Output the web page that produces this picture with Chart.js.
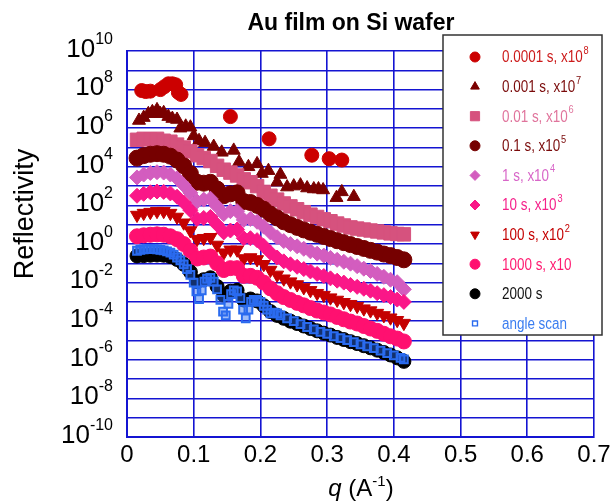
<!DOCTYPE html>
<html>
<head>
<meta charset="utf-8">
<script src="https://cdn.jsdelivr.net/npm/chart.js@4.4.1/dist/chart.umd.min.js"></script>
<style>
  html, body { margin: 0; padding: 0; background: #fff; }
  #wrap { width: 613px; height: 504px; position: relative; }
</style>
</head>
<body>
<div id="wrap"><canvas id="c"></canvas></div>
<script>
// q values (1/A) shared by the dense series
const Q = [0.015,0.025,0.035,0.045,0.055,0.065,0.075,0.085,0.095,0.105,0.115,0.125,0.135,0.145,0.155,0.165,0.175,0.185,0.195,0.205,0.215,0.225,0.235,0.245,0.255,0.265,0.275,0.285,0.295,0.305,0.315,0.325,0.335,0.345,0.355,0.365,0.375,0.385,0.395,0.405,0.415];

// reflectivity values, read as log10 off the axis
const qDot   = [0.022,0.028,0.035,0.05,0.056,0.062,0.068,0.073,0.077,0.081,0.155,0.213,0.277,0.303,0.322];
const logDot = [7.95,7.9,7.92,8.0,8.15,8.3,8.3,8.25,7.85,7.75,6.6,5.45,4.6,4.42,4.35];

const qTri   = [0.018,0.025,0.032,0.038,0.045,0.05,0.055,0.062,0.068,0.075,0.08,0.088,0.095,0.1,0.108,0.117,0.13,0.142,0.16,0.168,0.182,0.195,0.202,0.212,0.225,0.23,0.24,0.25,0.26,0.27,0.28,0.287,0.294,0.314,0.322,0.34];
const logTri = [6.4,6.55,6.75,6.85,6.95,6.75,6.8,6.6,6.5,6.45,6.0,6.1,6.05,5.6,5.35,5.25,5.05,4.75,4.85,4.25,4.0,4.15,3.65,3.8,3.2,3.6,2.95,3.0,3.05,2.9,2.85,2.85,2.8,2.4,2.7,2.45];

const logSquares = [5.4,5.45,5.42,5.45,5.35,5.3,5.15,5.0,4.8,4.6,4.45,4.3,4.05,3.85,3.7,3.55,3.35,3.2,3.0,2.7,2.5,2.3,2.1,1.95,1.8,1.65,1.52,1.4,1.28,1.18,1.06,0.96,0.86,0.8,0.75,0.7,0.65,0.6,0.55,0.52,0.5];
const logDark    = [4.45,4.58,4.65,4.68,4.65,4.55,4.35,4.05,3.65,3.2,3.15,3.2,2.85,2.5,2.6,2.65,2.2,2.15,2.0,1.8,1.55,1.35,1.15,1.0,0.86,0.73,0.61,0.5,0.39,0.28,0.17,0.07,-0.03,-0.13,-0.23,-0.33,-0.42,-0.52,-0.6,-0.7,-0.82];
const logOrchid  = [3.45,3.6,3.68,3.72,3.7,3.6,3.4,3.05,2.65,2.2,2.3,2.35,1.95,1.55,1.7,1.7,1.25,1.3,1.15,0.9,0.6,0.35,0.15,0.0,-0.12,-0.25,-0.38,-0.5,-0.6,-0.72,-0.82,-0.92,-1.02,-1.15,-1.28,-1.4,-1.55,-1.7,-1.85,-1.98,-2.35];
const logDeep    = [2.5,2.6,2.68,2.72,2.7,2.62,2.45,2.15,1.75,1.3,1.35,1.4,1.0,0.6,0.7,0.75,0.3,0.3,0.2,-0.1,-0.45,-0.7,-0.9,-1.05,-1.18,-1.3,-1.42,-1.55,-1.66,-1.78,-1.9,-2.0,-2.12,-2.22,-2.32,-2.42,-2.55,-2.65,-2.75,-2.88,-3.0];
const logRed     = [1.5,1.6,1.65,1.7,1.7,1.6,1.4,1.1,0.7,0.25,0.3,0.35,-0.05,-0.45,-0.3,-0.3,-0.75,-0.7,-0.8,-1.05,-1.35,-1.6,-1.8,-1.95,-2.1,-2.25,-2.4,-2.55,-2.65,-2.78,-2.9,-3.02,-3.12,-3.22,-3.35,-3.45,-3.58,-3.7,-3.82,-3.95,-4.1];
const logPink    = [0.4,0.45,0.48,0.5,0.48,0.4,0.25,0.0,-0.35,-0.75,-0.7,-0.65,-1.0,-1.35,-1.25,-1.25,-1.65,-1.65,-1.75,-2.0,-2.3,-2.55,-2.75,-2.9,-3.05,-3.18,-3.32,-3.45,-3.55,-3.65,-3.78,-3.9,-4.02,-4.12,-4.25,-4.38,-4.5,-4.65,-4.78,-4.9,-5.05];
const logBlack   = [-0.62,-0.6,-0.58,-0.57,-0.58,-0.65,-0.8,-1.05,-1.45,-1.95,-1.85,-1.75,-2.2,-2.65,-2.45,-2.4,-2.9,-2.85,-2.95,-3.2,-3.5,-3.7,-3.85,-4.0,-4.12,-4.25,-4.38,-4.5,-4.62,-4.72,-4.84,-4.95,-5.06,-5.16,-5.27,-5.38,-5.5,-5.62,-5.75,-5.9,-6.08];

const qScan   = [0.015,0.02,0.025,0.03,0.035,0.04,0.045,0.05,0.055,0.06,0.065,0.07,0.075,0.08,0.085,0.09,0.095,0.1,0.104,0.108,0.112,0.116,0.12,0.125,0.13,0.135,0.14,0.144,0.148,0.152,0.156,0.16,0.165,0.17,0.174,0.178,0.182,0.186,0.19,0.195,0.2,0.205,0.21,0.215,0.22,0.225,0.23,0.24,0.25,0.26,0.27,0.28,0.29,0.3,0.31,0.32,0.33,0.34,0.35,0.36,0.37,0.38,0.39,0.4,0.41,0.415];
const logScan = [-0.35,-0.3,-0.28,-0.27,-0.27,-0.27,-0.28,-0.3,-0.33,-0.38,-0.45,-0.55,-0.7,-0.85,-1.05,-1.3,-1.6,-2.0,-2.45,-2.85,-2.4,-1.95,-1.8,-1.75,-1.95,-2.35,-2.9,-3.5,-3.7,-3.1,-2.6,-2.4,-2.45,-2.8,-3.4,-3.85,-3.4,-3.0,-2.9,-2.9,-3.0,-3.2,-3.4,-3.6,-3.55,-3.6,-3.7,-3.85,-4.0,-4.15,-4.3,-4.42,-4.55,-4.65,-4.78,-4.88,-4.98,-5.08,-5.2,-5.3,-5.4,-5.52,-5.65,-5.77,-5.9,-5.98];

const seriesNames  = ['0.0001 s, x10', '0.001 s, x10', '0.01 s, x10', '0.1 s, x10', '1 s, x10', '10 s, x10', '100 s, x10', '1000 s, x10', '2000 s', 'angle scan'];
const seriesPowers = ['8', '7', '6', '5', '4', '3', '2', '', '', ''];

const xTicks = [0, 0.1, 0.2, 0.3, 0.4, 0.5, 0.6, 0.7];
const xTickLabels = ['0', '0.1', '0.2', '0.3', '0.4', '0.5', '0.6', '0.7'];
const yGridPowers = [10,9,8,7,6,5,4,3,2,1,0,-1,-2,-3,-4,-5,-6,-7,-8,-9,-10];
const yLabelPowers = [10, 8, 6, 4, 2, 0, -2, -4, -6, -8, -10];

const FONT = "'Liberation Sans', Arial, sans-serif";
const GRID = '#1414d2';

const markerColors = ['#cc0000', '#7a0000', '#d6527e', '#760000', '#d35dbf', '#fa1788', '#c40000', '#ff1070', '#000000', '#2a6bef'];
const textColors   = ['#cc1a1a', '#7a0a0a', '#e0749c', '#7a0a0a', '#d866c8', '#f5208a', '#c40000', '#ff1a70', '#111111', '#3a7df0'];
const markers = [
  { pointStyle: 'circle',   radius: 7,   rotation: 0 },
  { pointStyle: 'triangle', radius: 7.5, rotation: 0 },
  { pointStyle: 'rect',     radius: 9.5, rotation: 0 },
  { pointStyle: 'circle',   radius: 8,   rotation: 0 },
  { pointStyle: 'rectRot',  radius: 7.5, rotation: 0 },
  { pointStyle: 'rectRot',  radius: 7.5, rotation: 0 },
  { pointStyle: 'triangle', radius: 7.5, rotation: 180 },
  { pointStyle: 'circle',   radius: 7.5, rotation: 0 },
  { pointStyle: 'circle',   radius: 7,   rotation: 0 },
  { pointStyle: 'rect',     radius: 5.5, rotation: 0 }
];

function pts(qs, logs) {
  return qs.map((q, i) => ({ x: q, y: Math.pow(10, logs[i]) }));
}

const seriesData = [
  pts(qDot, logDot), pts(qTri, logTri), pts(Q, logSquares), pts(Q, logDark), pts(Q, logOrchid),
  pts(Q, logDeep), pts(Q, logRed), pts(Q, logPink), pts(Q, logBlack), pts(qScan, logScan)
];

const datasets = seriesData.map((data, i) => {
  const open = i === 9;
  return {
    label: seriesNames[i] + seriesPowers[i],
    data,
    order: 9 - i,
    pointStyle: markers[i].pointStyle,
    pointRadius: markers[i].radius,
    pointRotation: markers[i].rotation,
    backgroundColor: open ? 'rgba(42,107,239,0.45)' : markerColors[i],
    borderColor: markerColors[i],
    pointBorderWidth: open ? 2 : 1
  };
});

const decor = {
  id: 'decor',
  afterDraw(chart) {
    const { ctx } = chart;
    const xs = chart.scales.x, ys = chart.scales.y;
    ctx.save();
    ctx.fillStyle = '#000';
    ctx.textBaseline = 'alphabetic';

    // title
    ctx.font = 'bold 23px ' + FONT;
    ctx.textAlign = 'center';
    ctx.fillText('Au film on Si wafer', 351, 30);

    // y tick labels 10^n
    ctx.textAlign = 'left';
    yLabelPowers.forEach(p => {
      const py = ys.getPixelForValue(Math.pow(10, p));
      ctx.font = '16px ' + FONT;
      const sw = ctx.measureText(String(p)).width;
      ctx.font = '26px ' + FONT;
      const mw = ctx.measureText('10').width;
      const right = 113;
      ctx.fillText('10', right - sw - mw, py + 5.8);
      ctx.font = '16px ' + FONT;
      ctx.fillText(String(p), right - sw, py - 7.5);
    });

    // x tick labels
    ctx.font = '24px ' + FONT;
    ctx.textAlign = 'center';
    xTicks.forEach((v, i) => {
      ctx.fillText(xTickLabels[i], xs.getPixelForValue(v), 462);
    });

    // x title: q (A^-1)
    const parts = [
      { t: 'q', f: 'italic 24px ' + FONT, dy: 0 },
      { t: ' (A', f: '24px ' + FONT, dy: 0 },
      { t: '-1', f: '15px ' + FONT, dy: -10 },
      { t: ')', f: '24px ' + FONT, dy: 0 }
    ];
    let total = 0;
    parts.forEach(p => { ctx.font = p.f; p.w = ctx.measureText(p.t).width; total += p.w; });
    let cx = 361 - total / 2;
    ctx.textAlign = 'left';
    parts.forEach(p => { ctx.font = p.f; ctx.fillText(p.t, cx, 496 + p.dy); cx += p.w; });

    // y title
    ctx.save();
    ctx.translate(26, 214);
    ctx.rotate(-Math.PI / 2);
    ctx.font = '27px ' + FONT;
    ctx.textAlign = 'center';
    ctx.textBaseline = 'middle';
    ctx.fillText('Reflectivity', 0, 0);
    ctx.restore();

    // legend box
    const bx = 443, by = 35, bw = 159, bh = 300;
    ctx.fillStyle = '#fff';
    ctx.fillRect(bx, by, bw, bh);
    ctx.strokeStyle = '#333';
    ctx.lineWidth = 1.5;
    ctx.strokeRect(bx, by, bw, bh);
    seriesNames.forEach((name, i) => {
      const ry = 57 + i * 29.6;
      const m = markers[i];
      ctx.fillStyle = i === 9 ? 'rgba(0,0,0,0)' : markerColors[i];
      ctx.strokeStyle = markerColors[i];
      ctx.lineWidth = i === 9 ? 1.4 : 1;
      Chart.helpers.drawPoint(ctx, {
        pointStyle: m.pointStyle,
        radius: i === 2 ? 6.5 : (i === 9 ? 3.5 : 5),
        rotation: m.rotation,
        borderWidth: 1
      }, 475, ry);
      // narrow legend font, as in the original
      ctx.save();
      ctx.translate(502, ry + 1);
      ctx.scale(0.84, 1);
      ctx.fillStyle = textColors[i];
      ctx.textAlign = 'left';
      ctx.textBaseline = 'middle';
      ctx.font = '16px ' + FONT;
      ctx.fillText(name, 0, 0);
      if (seriesPowers[i]) {
        const w = ctx.measureText(name).width;
        ctx.font = '11px ' + FONT;
        ctx.fillText(seriesPowers[i], w + 1, -7);
      }
      ctx.restore();
    });
    ctx.restore();
  }
};

new Chart(document.getElementById('c'), {
  type: 'scatter',
  data: { datasets },
  options: {
    responsive: true,
    maintainAspectRatio: false,
    animation: false,
    layout: { padding: { left: 127, right: 19, top: 51, bottom: 67 } },
    plugins: {
      legend: { display: false },
      tooltip: { enabled: false },
      title: { display: false }
    },
    scales: {
      x: {
        type: 'linear', min: 0, max: 0.7,
        afterBuildTicks: s => { s.ticks = xTicks.map(v => ({ value: v })); },
        ticks: { display: false },
        grid: { color: GRID, lineWidth: 1.6, drawTicks: false },
        border: { color: GRID, width: 2 }
      },
      y: {
        type: 'logarithmic', min: 1e-10, max: 1e10,
        afterBuildTicks: s => { s.ticks = yGridPowers.map(p => ({ value: Math.pow(10, p), major: true })); },
        ticks: { display: false },
        grid: { color: GRID, lineWidth: 1.6, drawTicks: false },
        border: { color: GRID, width: 2 }
      }
    }
  },
  plugins: [decor]
});
</script>
</body>
</html>
